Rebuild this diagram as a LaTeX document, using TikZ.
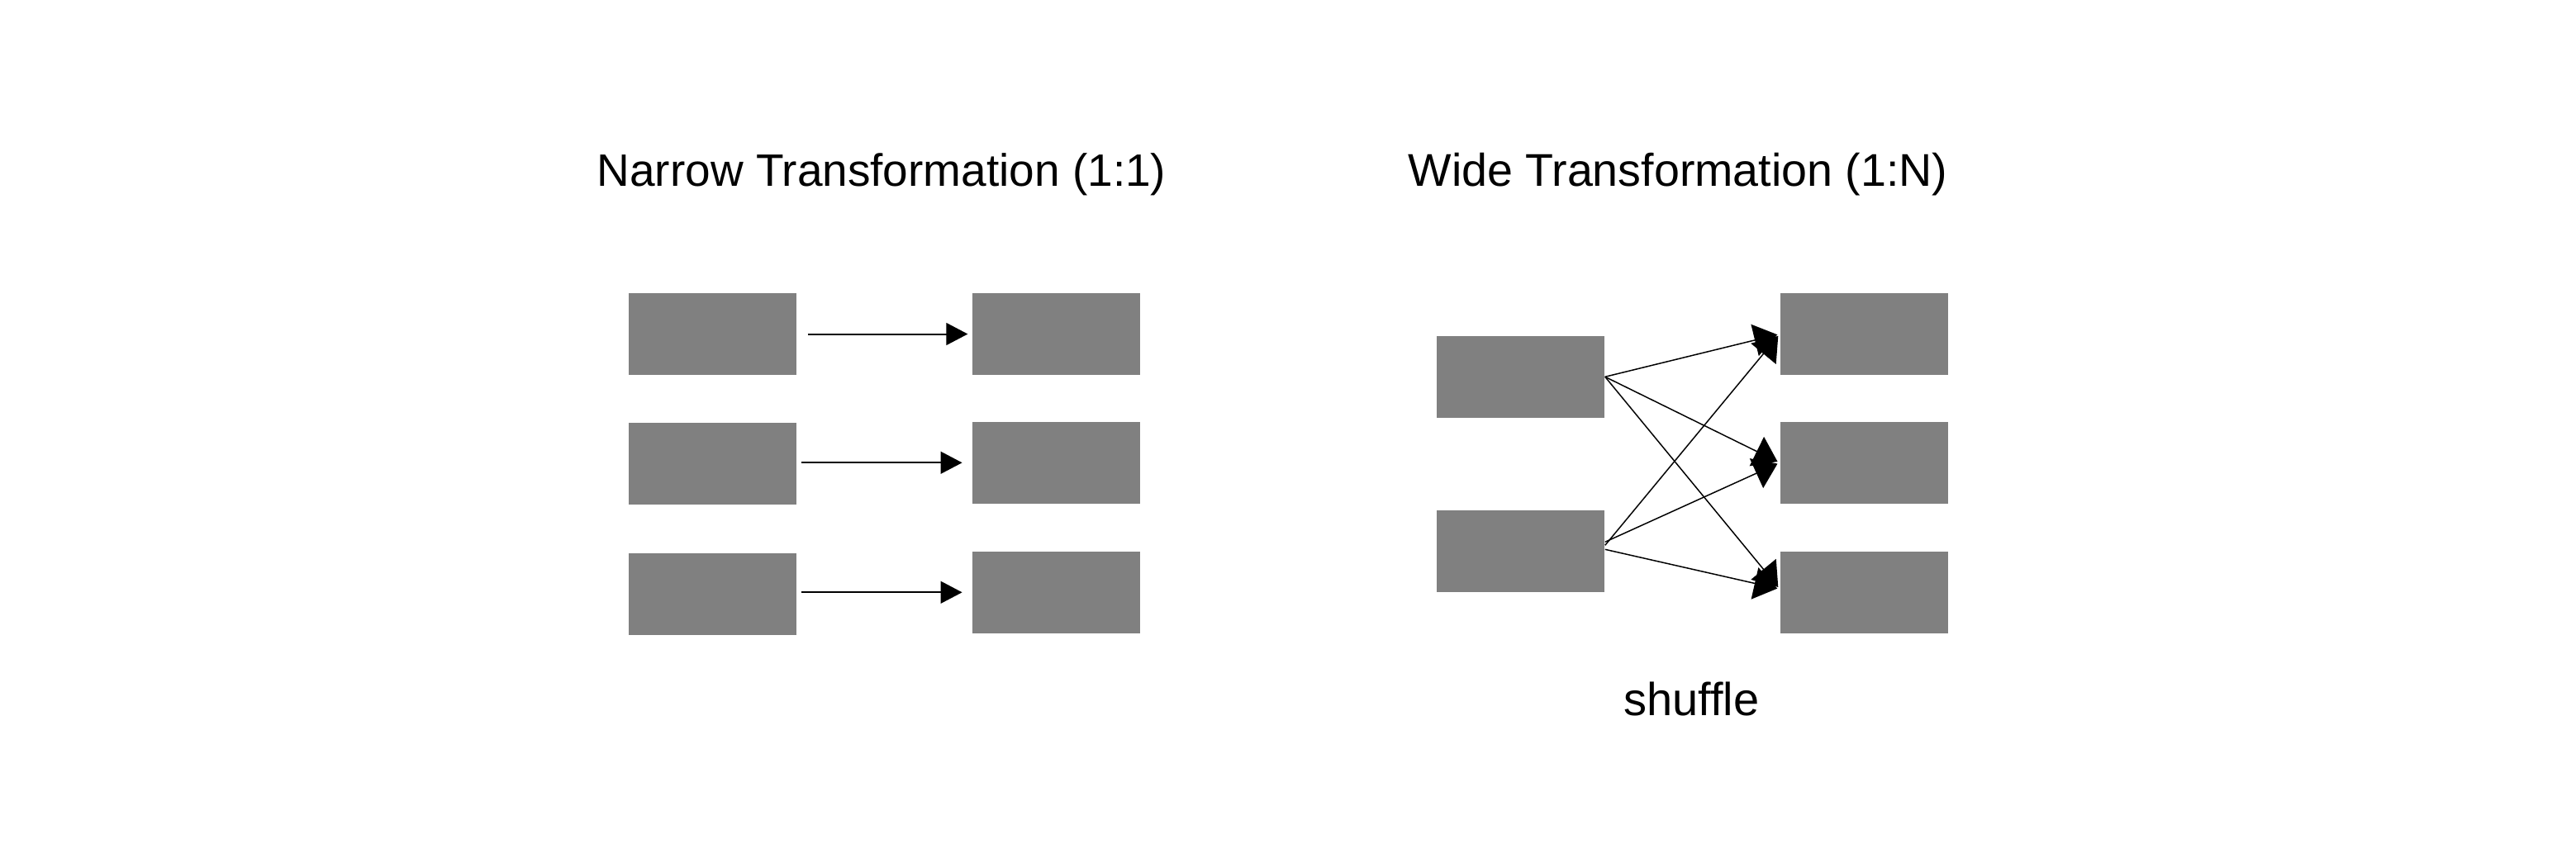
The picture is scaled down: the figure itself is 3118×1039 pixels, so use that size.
\documentclass[tikz,border=0pt]{standalone}
\usepackage{fontspec}
\setmainfont{Liberation Sans}
\usetikzlibrary{arrows.meta}
\definecolor{boxgray}{RGB}{128,128,128}
\begin{document}
\begin{tikzpicture}[x=0.25pt,y=-0.25pt,
  part/.style={fill=boxgray, draw=none, inner sep=0pt, minimum height=24.75pt, minimum width=50.75pt},
  narrowarrow/.style={line width=0.5pt, -{Triangle[length=6.5pt,width=6.7pt]}},
  widearrow/.style={line width=0.37pt, -{Triangle[length=7pt,width=9.8pt]}, shorten >=0.75pt},
  title/.style={anchor=base, inner sep=0pt, font=\fontsize{13.75pt}{16pt}\selectfont},
  widetitle/.style={title, font=\fontsize{13.9pt}{16pt}\selectfont},
  label/.style={anchor=base, inner sep=0pt, font=\fontsize{14pt}{16pt}\selectfont}]
\useasboundingbox (0,0) rectangle (3118,1039);

% titles
\node[title] (tnarrow) at (1067,225) {Narrow Transformation (1:1)};
\node[widetitle] (twide) at (2031,225) {Wide Transformation (1:N)};

% narrow transformation
\node[part] (L1) at (862.5,404.5) {};
\node[part] (L2) at (862.5,561.3) {};
\node[part] (L3) at (862.5,719.3) {};
\node[part] (R1) at (1278.5,404.5) {};
\node[part] (R2) at (1278.5,560.3) {};
\node[part] (R3) at (1278.5,717.3) {};

\draw[narrowarrow, shorten <=3.25pt, shorten >=1.2pt] (L1.east |- R1) -- (R1.west);
\draw[narrowarrow, shorten <=1.25pt, shorten >=2.9pt] (L2.east |- R2) -- (R2.west);
\draw[narrowarrow, shorten <=1.25pt, shorten >=2.9pt] (L3.east |- R3) -- (R3.west);

% wide transformation
\node[part] (A1) at (1840.5,456.3) {};
\node[part] (A2) at (1840.5,667.3) {};
\node[part] (B1) at (2256.5,404.5) {};
\node[part] (B2) at (2256.5,560.3) {};
\node[part] (B3) at (2256.5,717.3) {};

\draw[widearrow] (A1.east) -- (B1.west);
\draw[widearrow] (A1.east) -- (B2.west);
\draw[widearrow] (A1.east) -- ([yshift=1pt]B3.west);
\draw[widearrow] ([yshift=1.75pt]A2.east) -- (B1.west);
\draw[widearrow] ([yshift=2.75pt]A2.east) -- (B2.west);
\draw[widearrow] ([yshift=0.5pt]A2.east) -- ([yshift=1pt]B3.west);

\node[label] (shuffle) at (2047.5,866) {shuffle};
\end{tikzpicture}
\end{document}
